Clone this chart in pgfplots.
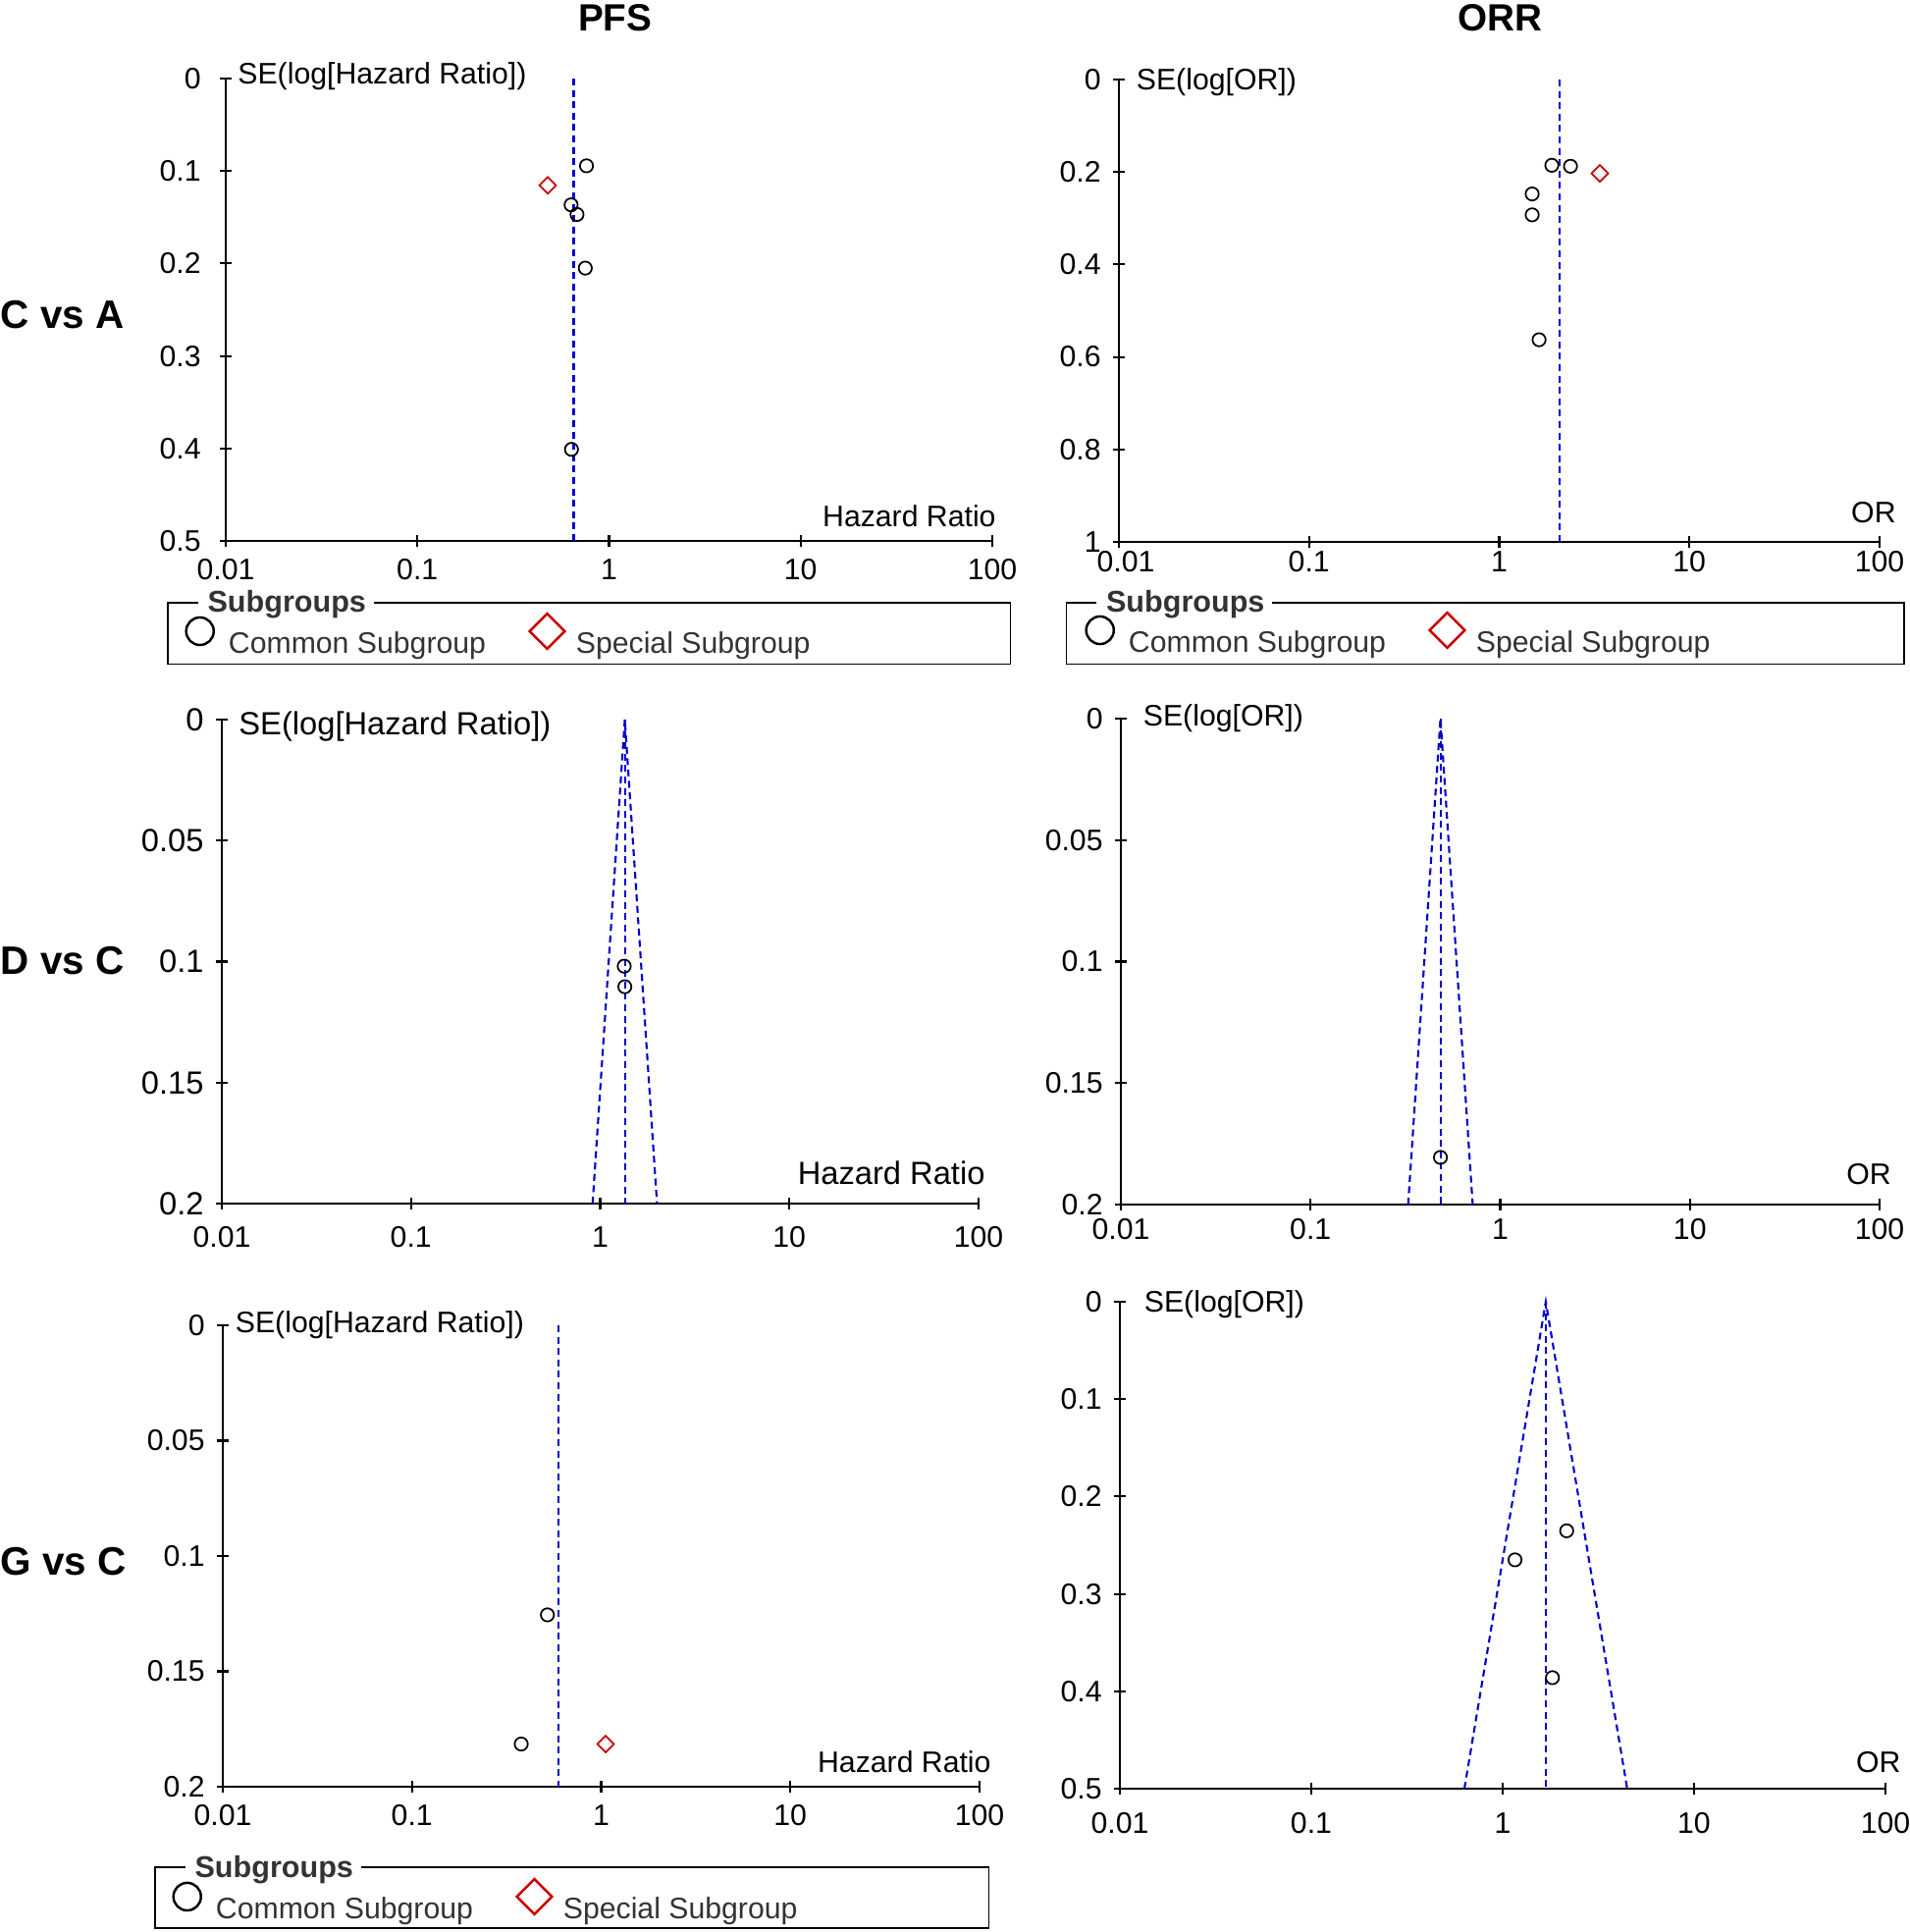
\documentclass[border=0pt]{standalone}
\usepackage{fontspec}
\setmainfont{Liberation Sans}
\usepackage{pgfplots}
\pgfplotsset{compat=1.18}
\definecolor{fblue}{RGB}{0,0,204}
\definecolor{fred}{RGB}{204,0,0}
\definecolor{lgray}{RGB}{51,51,51}
\newcommand{\tfont}{\fontsize{8.6}{10}\selectfont}
\newcommand{\bfont}{\fontsize{9.3}{11}\selectfont}
\pgfplotsset{legend image code/.code={\draw[#1] plot coordinates {(0.17cm,0.14cm)}; \path (0cm,-0.32cm) (0.34cm,0.32cm);}}
\pgfplotsset{
  every axis/.append style={
    scale only axis,
    xmode=log, xmin=0.01, xmax=100,
    xtick={0.01,0.1,1,10,100},
    xticklabels={0.01,0.1,1,10,100},
    xminorticks=false, yminorticks=false,
    y dir=reverse,
    axis x line*=bottom, axis y line*=left,
    axis line style={line width=0.7pt, black},
    tick style={black, line width=0.6pt},
    tick align=center,
    major tick length=0.12cm,
    tick label style={font=\tfont, black},
    clip=false,
    legend columns=2,
    legend style={draw=none, fill=none, inner sep=0pt, outer sep=0pt, anchor=west, font=\tfont, text=lgray,
      /tikz/every odd column/.append style={column sep=0.045cm},
      /tikz/every even column/.append style={column sep=0.375cm}},
  },
}
\newcommand{\legimgs}{%
  \addlegendimage{only marks, mark=o, mark size=4pt, black, mark options={line width=0.7pt}}
  \addlegendentry{Common Subgroup}
  \addlegendimage{only marks, mark=square, mark size=3.6pt, fred, mark options={rotate=45, line width=0.7pt}}
  \addlegendentry{Special Subgroup}
}
\begin{document}
\begin{tikzpicture}
% ---------------- C vs A, PFS ----------------
\begin{axis}[at={(2.30cm,14.17cm)}, anchor=south west, width=7.81cm, height=4.71cm,
  ymin=0, ymax=0.5, ytick={0,0.1,0.2,0.3,0.4,0.5}, yticklabels={0,0.1,0.2,0.3,0.4,0.5},
  yticklabel style={xshift=-0.07cm},
  legend style={at={(axis description cs:-0.0563,-0.225)}}]
\legimgs
\addplot[only marks, mark=o, mark size=1.9pt, black, mark options={line width=0.5pt}, forget plot] coordinates {(0.763,0.0944) (0.634,0.1366) (0.681,0.147) (0.752,0.205) (0.637,0.401)};
\addplot[only marks, mark=square, mark size=1.7pt, fred, mark options={rotate=45, line width=0.5pt}, forget plot] coordinates {(0.479,0.1155)};
\addplot[fblue, line width=0.6pt, dash pattern=on 2pt off 1.3pt, mark=none, forget plot] coordinates {(0.654,0) (0.654,0.5)};
\node[anchor=west, font=\tfont, xshift=0cm, yshift=0.02cm] at (axis description cs:0,1) {SE(log[Hazard Ratio])};
\node[anchor=east, font=\tfont, xshift=0.16cm, yshift=0.25cm] at (axis description cs:1,0) {Hazard Ratio};
\end{axis}
% ---------------- C vs A, ORR ----------------
\begin{axis}[at={(11.40cm,14.16cm)}, anchor=south west, width=7.75cm, height=4.71cm,
  ymin=0, ymax=1, ytick={0,0.2,0.4,0.6,0.8,1}, yticklabels={0,0.2,0.4,0.6,0.8,1},
  xticklabels={\hspace{0.14cm}0.01,0.1,1,10,100},
  xticklabel style={yshift=0.09cm},
  legend style={at={(axis description cs:-0.0477,-0.2208)}}]
\legimgs
\addplot[only marks, mark=o, mark size=1.9pt, black, mark options={line width=0.5pt}, forget plot] coordinates {(1.89,0.1855) (2.37,0.1876) (1.49,0.2475) (1.49,0.2927) (1.62,0.5628)};
\addplot[only marks, mark=square, mark size=1.7pt, fred, mark options={rotate=45, line width=0.5pt}, forget plot] coordinates {(3.38,0.203)};
\addplot[fblue, line width=0.6pt, dash pattern=on 2pt off 1.3pt, mark=none, forget plot] coordinates {(2.08,0) (2.08,1)};
\node[anchor=west, font=\tfont, xshift=0.055cm, yshift=-0.025cm] at (axis description cs:0,1) {SE(log[OR])};
\node[anchor=east, font=\tfont, xshift=0.29cm, yshift=0.30cm] at (axis description cs:1,0) {OR};
\end{axis}
% ---------------- D vs C, PFS ----------------
\begin{axis}[at={(2.26cm,7.42cm)}, anchor=south west, width=7.71cm, height=4.93cm,
  ymin=0, ymax=0.2, ytick={0,0.05,0.1,0.15,0.2}, yticklabels={0,0.05,0.1,0.15,0.2},
  yticklabel style={font=\bfont},
  xticklabel style={yshift=-0.05cm}]
\addplot[only marks, mark=o, mark size=1.9pt, black, mark options={line width=0.5pt}, forget plot] coordinates {(1.34,0.1019) (1.35,0.1104)};
\addplot[fblue, line width=0.6pt, dash pattern=on 2pt off 1.3pt, mark=none, forget plot] coordinates {(1.35,0) (1.35,0.2)};
\addplot[fblue, line width=0.6pt, dash pattern=on 2pt off 1.3pt, mark=none, forget plot] coordinates {(0.912,0.2) (1.35,0) (1.998,0.2)};
\node[anchor=west, font=\bfont, xshift=0.05cm, yshift=-0.075cm] at (axis description cs:0,1) {SE(log[Hazard Ratio])};
\node[anchor=east, font=\bfont, xshift=0.19cm, yshift=0.31cm] at (axis description cs:1,0) {Hazard Ratio};
\end{axis}
% ---------------- D vs C, ORR ----------------
\begin{axis}[at={(11.42cm,7.41cm)}, anchor=south west, width=7.73cm, height=4.95cm,
  ymin=0, ymax=0.2, ytick={0,0.05,0.1,0.15,0.2}, yticklabels={0,0.05,0.1,0.15,0.2},
  xticklabel style={yshift=0.04cm}]
\addplot[only marks, mark=o, mark size=1.9pt, black, mark options={line width=0.5pt}, forget plot] coordinates {(0.484,0.1806)};
\addplot[fblue, line width=0.6pt, dash pattern=on 2pt off 1.3pt, mark=none, forget plot] coordinates {(0.484,0) (0.484,0.2)};
\addplot[fblue, line width=0.6pt, dash pattern=on 2pt off 1.3pt, mark=none, forget plot] coordinates {(0.327,0.2) (0.484,0) (0.716,0.2)};
\node[anchor=west, font=\tfont, xshift=0.105cm, yshift=0.005cm] at (axis description cs:0,1) {SE(log[OR])};
\node[anchor=east, font=\tfont, xshift=0.24cm, yshift=0.305cm] at (axis description cs:1,0) {OR};
\end{axis}
% ---------------- G vs C, PFS ----------------
\begin{axis}[at={(2.27cm,1.48cm)}, anchor=south west, width=7.71cm, height=4.70cm,
  ymin=0, ymax=0.2, ytick={0,0.05,0.1,0.15,0.2}, yticklabels={0,0.05,0.1,0.15,0.2},
  legend style={at={(axis description cs:-0.070,-0.268)}}]
\legimgs
\addplot[only marks, mark=o, mark size=1.9pt, black, mark options={line width=0.5pt}, forget plot] coordinates {(0.520,0.1255) (0.378,0.1815)};
\addplot[only marks, mark=square, mark size=1.7pt, fred, mark options={rotate=45, line width=0.5pt}, forget plot] coordinates {(1.056,0.1815)};
\addplot[fblue, line width=0.6pt, dash pattern=on 2pt off 1.3pt, mark=none, forget plot] coordinates {(0.597,0) (0.597,0.2)};
\node[anchor=west, font=\tfont, xshift=0.005cm, yshift=0.005cm] at (axis description cs:0,1) {SE(log[Hazard Ratio])};
\node[anchor=east, font=\tfont, xshift=0.24cm, yshift=0.25cm] at (axis description cs:1,0) {Hazard Ratio};
\end{axis}
% ---------------- G vs C, ORR ----------------
\begin{axis}[at={(11.41cm,1.46cm)}, anchor=south west, width=7.80cm, height=4.96cm,
  ymin=0, ymax=0.5, ytick={0,0.1,0.2,0.3,0.4,0.5}, yticklabels={0,0.1,0.2,0.3,0.4,0.5},
  xticklabel style={yshift=-0.06cm}]
\addplot[only marks, mark=o, mark size=1.9pt, black, mark options={line width=0.5pt}, forget plot] coordinates {(2.16,0.2352) (1.16,0.265) (1.82,0.386)};
\addplot[fblue, line width=0.6pt, dash pattern=on 2pt off 1.3pt, mark=none, forget plot] coordinates {(1.68,0) (1.68,0.5)};
\addplot[fblue, line width=0.6pt, dash pattern=on 2pt off 1.3pt, mark=none, forget plot] coordinates {(0.631,0.5) (1.68,0) (4.475,0.5)};
\node[anchor=west, font=\tfont, xshift=0.125cm, yshift=-0.025cm] at (axis description cs:0,1) {SE(log[OR])};
\node[anchor=east, font=\tfont, xshift=0.28cm, yshift=0.27cm] at (axis description cs:1,0) {OR};
\end{axis}
% ---------------- titles, row labels, legend frames ----------------
\begin{scope}[shift={(0cm,19.68cm)}, x=0.01cm, y=-0.01cm]
\node[font=\bfseries\fontsize{11}{13}\selectfont] at (627,18) {PFS};
\node[font=\bfseries\fontsize{11}{13}\selectfont] at (1529,18) {ORR};
\node[anchor=west, inner sep=0pt, font=\bfseries\fontsize{11.5}{13}\selectfont] at (0,321) {C vs A};
\node[anchor=west, inner sep=0pt, font=\bfseries\fontsize{11.5}{13}\selectfont] at (0,979) {D vs C};
\node[anchor=west, inner sep=0pt, font=\bfseries\fontsize{11.5}{13}\selectfont] at (0,1592) {G vs C};
\draw[line width=0.5pt] (202,614) -- (171,614) -- (171,677) -- (1030,677) -- (1030,614) -- (381,614);
\node[anchor=west, inner xsep=0.09cm, inner ysep=1pt, font=\bfseries\fontsize{8.7}{10}\selectfont, text=lgray] at (202,616) {Subgroups};
\draw[line width=0.5pt] (1118,614) -- (1087,614) -- (1087,677) -- (1941,677) -- (1941,614) -- (1297,614);
\node[anchor=west, inner xsep=0.09cm, inner ysep=1pt, font=\bfseries\fontsize{8.7}{10}\selectfont, text=lgray] at (1118,616) {Subgroups};
\draw[line width=0.5pt] (189,1903) -- (158,1903) -- (158,1965) -- (1008,1965) -- (1008,1903) -- (368,1903);
\node[anchor=west, inner xsep=0.09cm, inner ysep=1pt, font=\bfseries\fontsize{8.7}{10}\selectfont, text=lgray] at (189,1906) {Subgroups};
\end{scope}
\pgfresetboundingbox
\path[use as bounding box] (0cm,0cm) rectangle (19.46cm,19.68cm);
\end{tikzpicture}
\end{document}
